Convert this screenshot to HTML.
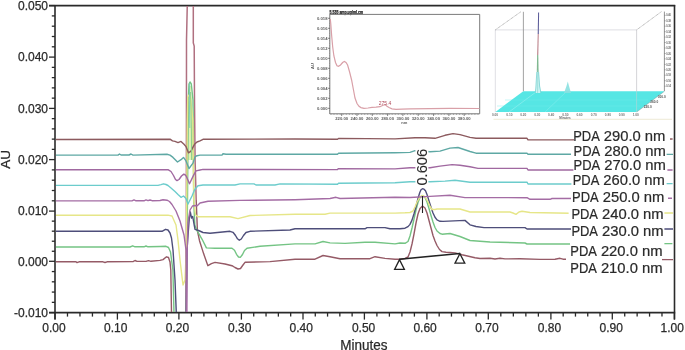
<!DOCTYPE html>
<html><head><meta charset="utf-8"><style>
html,body{margin:0;padding:0;background:#fff;width:685px;height:350px;overflow:hidden;}
svg{display:block;will-change:transform;}
text{font-family:"Liberation Sans",sans-serif;fill:#2a2a2a;}
.t12{font-size:12px;stroke:#2a2a2a;stroke-width:0.25px;}
.t13{font-size:13px;stroke:#2a2a2a;stroke-width:0.25px;}
.t14{font-size:14px;stroke:#2a2a2a;stroke-width:0.25px;}
.t15{font-size:15px;stroke:#2a2a2a;stroke-width:0.22px;}
.tiny{fill:#5a5a5a;font-weight:bold;}
</style></head><body>
<svg width="685" height="350" viewBox="0 0 685 350">
<defs><clipPath id="pc"><rect x="55" y="6" width="618" height="306"/></clipPath></defs>
<rect x="312" y="8" width="170" height="118" fill="#fff"/><text x="329.6" y="14" font-size="4.6" font-weight="bold" textLength="33.5" lengthAdjust="spacingAndGlyphs" style="fill:#1a1a1a;stroke:#1a1a1a;stroke-width:0.25px">5.535 amp.ug/ml.cm</text><polyline points="330,14.4 479.7,14.4 479.7,113.8" fill="none" stroke="#7a7a7a" stroke-width="1"/><polyline points="329.8,14 329.8,113.8 479.7,113.8" fill="none" stroke="#777" stroke-width="1"/><line x1="328" y1="18.3" x2="330" y2="18.3" stroke="#555" stroke-width="0.7"/><text x="327.5" y="19.8" text-anchor="end" class="tiny" font-size="4.2">0.018</text><line x1="329" y1="20.8" x2="330" y2="20.8" stroke="#777" stroke-width="0.5"/><line x1="329" y1="23.3" x2="330" y2="23.3" stroke="#777" stroke-width="0.5"/><line x1="329" y1="25.8" x2="330" y2="25.8" stroke="#777" stroke-width="0.5"/><line x1="328" y1="28.3" x2="330" y2="28.3" stroke="#555" stroke-width="0.7"/><text x="327.5" y="29.8" text-anchor="end" class="tiny" font-size="4.2">0.016</text><line x1="329" y1="30.8" x2="330" y2="30.8" stroke="#777" stroke-width="0.5"/><line x1="329" y1="33.3" x2="330" y2="33.3" stroke="#777" stroke-width="0.5"/><line x1="329" y1="35.8" x2="330" y2="35.8" stroke="#777" stroke-width="0.5"/><line x1="328" y1="38.3" x2="330" y2="38.3" stroke="#555" stroke-width="0.7"/><text x="327.5" y="39.8" text-anchor="end" class="tiny" font-size="4.2">0.014</text><line x1="329" y1="40.8" x2="330" y2="40.8" stroke="#777" stroke-width="0.5"/><line x1="329" y1="43.3" x2="330" y2="43.3" stroke="#777" stroke-width="0.5"/><line x1="329" y1="45.8" x2="330" y2="45.8" stroke="#777" stroke-width="0.5"/><line x1="328" y1="48.3" x2="330" y2="48.3" stroke="#555" stroke-width="0.7"/><text x="327.5" y="49.8" text-anchor="end" class="tiny" font-size="4.2">0.012</text><line x1="329" y1="50.8" x2="330" y2="50.8" stroke="#777" stroke-width="0.5"/><line x1="329" y1="53.3" x2="330" y2="53.3" stroke="#777" stroke-width="0.5"/><line x1="329" y1="55.8" x2="330" y2="55.8" stroke="#777" stroke-width="0.5"/><line x1="328" y1="58.3" x2="330" y2="58.3" stroke="#555" stroke-width="0.7"/><text x="327.5" y="59.8" text-anchor="end" class="tiny" font-size="4.2">0.010</text><line x1="329" y1="60.8" x2="330" y2="60.8" stroke="#777" stroke-width="0.5"/><line x1="329" y1="63.3" x2="330" y2="63.3" stroke="#777" stroke-width="0.5"/><line x1="329" y1="65.8" x2="330" y2="65.8" stroke="#777" stroke-width="0.5"/><line x1="328" y1="68.3" x2="330" y2="68.3" stroke="#555" stroke-width="0.7"/><text x="327.5" y="69.8" text-anchor="end" class="tiny" font-size="4.2">0.008</text><line x1="329" y1="70.8" x2="330" y2="70.8" stroke="#777" stroke-width="0.5"/><line x1="329" y1="73.3" x2="330" y2="73.3" stroke="#777" stroke-width="0.5"/><line x1="329" y1="75.8" x2="330" y2="75.8" stroke="#777" stroke-width="0.5"/><line x1="328" y1="78.3" x2="330" y2="78.3" stroke="#555" stroke-width="0.7"/><text x="327.5" y="79.8" text-anchor="end" class="tiny" font-size="4.2">0.006</text><line x1="329" y1="80.8" x2="330" y2="80.8" stroke="#777" stroke-width="0.5"/><line x1="329" y1="83.3" x2="330" y2="83.3" stroke="#777" stroke-width="0.5"/><line x1="329" y1="85.8" x2="330" y2="85.8" stroke="#777" stroke-width="0.5"/><line x1="328" y1="88.3" x2="330" y2="88.3" stroke="#555" stroke-width="0.7"/><text x="327.5" y="89.8" text-anchor="end" class="tiny" font-size="4.2">0.004</text><line x1="329" y1="90.8" x2="330" y2="90.8" stroke="#777" stroke-width="0.5"/><line x1="329" y1="93.3" x2="330" y2="93.3" stroke="#777" stroke-width="0.5"/><line x1="329" y1="95.8" x2="330" y2="95.8" stroke="#777" stroke-width="0.5"/><line x1="328" y1="98.3" x2="330" y2="98.3" stroke="#555" stroke-width="0.7"/><text x="327.5" y="99.8" text-anchor="end" class="tiny" font-size="4.2">0.002</text><line x1="329" y1="100.8" x2="330" y2="100.8" stroke="#777" stroke-width="0.5"/><line x1="329" y1="103.3" x2="330" y2="103.3" stroke="#777" stroke-width="0.5"/><line x1="329" y1="105.8" x2="330" y2="105.8" stroke="#777" stroke-width="0.5"/><line x1="328" y1="108.3" x2="330" y2="108.3" stroke="#555" stroke-width="0.7"/><text x="327.5" y="109.8" text-anchor="end" class="tiny" font-size="4.2">0.000</text><line x1="329" y1="110.8" x2="330" y2="110.8" stroke="#777" stroke-width="0.5"/><line x1="329" y1="113.3" x2="330" y2="113.3" stroke="#777" stroke-width="0.5"/><text transform="translate(313.5,66) rotate(-90)" text-anchor="middle" class="tiny" font-size="4">AU</text><line x1="341.7" y1="113.8" x2="341.7" y2="116" stroke="#555" stroke-width="0.7"/><text x="341.7" y="119.6" text-anchor="middle" class="tiny" font-size="4.2">220.00</text><line x1="357.0" y1="113.8" x2="357.0" y2="116" stroke="#555" stroke-width="0.7"/><text x="357.0" y="119.6" text-anchor="middle" class="tiny" font-size="4.2">240.00</text><line x1="372.3" y1="113.8" x2="372.3" y2="116" stroke="#555" stroke-width="0.7"/><text x="372.3" y="119.6" text-anchor="middle" class="tiny" font-size="4.2">260.00</text><line x1="387.6" y1="113.8" x2="387.6" y2="116" stroke="#555" stroke-width="0.7"/><text x="387.6" y="119.6" text-anchor="middle" class="tiny" font-size="4.2">280.00</text><line x1="402.9" y1="113.8" x2="402.9" y2="116" stroke="#555" stroke-width="0.7"/><text x="402.9" y="119.6" text-anchor="middle" class="tiny" font-size="4.2">300.00</text><line x1="418.2" y1="113.8" x2="418.2" y2="116" stroke="#555" stroke-width="0.7"/><text x="418.2" y="119.6" text-anchor="middle" class="tiny" font-size="4.2">320.00</text><line x1="433.6" y1="113.8" x2="433.6" y2="116" stroke="#555" stroke-width="0.7"/><text x="433.6" y="119.6" text-anchor="middle" class="tiny" font-size="4.2">340.00</text><line x1="448.9" y1="113.8" x2="448.9" y2="116" stroke="#555" stroke-width="0.7"/><text x="448.9" y="119.6" text-anchor="middle" class="tiny" font-size="4.2">360.00</text><line x1="464.2" y1="113.8" x2="464.2" y2="116" stroke="#555" stroke-width="0.7"/><text x="464.2" y="119.6" text-anchor="middle" class="tiny" font-size="4.2">380.00</text><line x1="331.0" y1="113.8" x2="331.0" y2="115" stroke="#777" stroke-width="0.5"/><line x1="334.0" y1="113.8" x2="334.0" y2="115" stroke="#777" stroke-width="0.5"/><line x1="337.1" y1="113.8" x2="337.1" y2="115" stroke="#777" stroke-width="0.5"/><line x1="340.2" y1="113.8" x2="340.2" y2="115" stroke="#777" stroke-width="0.5"/><line x1="343.2" y1="113.8" x2="343.2" y2="115" stroke="#777" stroke-width="0.5"/><line x1="346.3" y1="113.8" x2="346.3" y2="115" stroke="#777" stroke-width="0.5"/><line x1="349.4" y1="113.8" x2="349.4" y2="115" stroke="#777" stroke-width="0.5"/><line x1="352.4" y1="113.8" x2="352.4" y2="115" stroke="#777" stroke-width="0.5"/><line x1="355.5" y1="113.8" x2="355.5" y2="115" stroke="#777" stroke-width="0.5"/><line x1="358.5" y1="113.8" x2="358.5" y2="115" stroke="#777" stroke-width="0.5"/><line x1="361.6" y1="113.8" x2="361.6" y2="115" stroke="#777" stroke-width="0.5"/><line x1="364.7" y1="113.8" x2="364.7" y2="115" stroke="#777" stroke-width="0.5"/><line x1="367.7" y1="113.8" x2="367.7" y2="115" stroke="#777" stroke-width="0.5"/><line x1="370.8" y1="113.8" x2="370.8" y2="115" stroke="#777" stroke-width="0.5"/><line x1="373.9" y1="113.8" x2="373.9" y2="115" stroke="#777" stroke-width="0.5"/><line x1="376.9" y1="113.8" x2="376.9" y2="115" stroke="#777" stroke-width="0.5"/><line x1="380.0" y1="113.8" x2="380.0" y2="115" stroke="#777" stroke-width="0.5"/><line x1="383.0" y1="113.8" x2="383.0" y2="115" stroke="#777" stroke-width="0.5"/><line x1="386.1" y1="113.8" x2="386.1" y2="115" stroke="#777" stroke-width="0.5"/><line x1="389.2" y1="113.8" x2="389.2" y2="115" stroke="#777" stroke-width="0.5"/><line x1="392.2" y1="113.8" x2="392.2" y2="115" stroke="#777" stroke-width="0.5"/><line x1="395.3" y1="113.8" x2="395.3" y2="115" stroke="#777" stroke-width="0.5"/><line x1="398.3" y1="113.8" x2="398.3" y2="115" stroke="#777" stroke-width="0.5"/><line x1="401.4" y1="113.8" x2="401.4" y2="115" stroke="#777" stroke-width="0.5"/><line x1="404.5" y1="113.8" x2="404.5" y2="115" stroke="#777" stroke-width="0.5"/><line x1="407.5" y1="113.8" x2="407.5" y2="115" stroke="#777" stroke-width="0.5"/><line x1="410.6" y1="113.8" x2="410.6" y2="115" stroke="#777" stroke-width="0.5"/><line x1="413.7" y1="113.8" x2="413.7" y2="115" stroke="#777" stroke-width="0.5"/><line x1="416.7" y1="113.8" x2="416.7" y2="115" stroke="#777" stroke-width="0.5"/><line x1="419.8" y1="113.8" x2="419.8" y2="115" stroke="#777" stroke-width="0.5"/><line x1="422.8" y1="113.8" x2="422.8" y2="115" stroke="#777" stroke-width="0.5"/><line x1="425.9" y1="113.8" x2="425.9" y2="115" stroke="#777" stroke-width="0.5"/><line x1="429.0" y1="113.8" x2="429.0" y2="115" stroke="#777" stroke-width="0.5"/><line x1="432.0" y1="113.8" x2="432.0" y2="115" stroke="#777" stroke-width="0.5"/><line x1="435.1" y1="113.8" x2="435.1" y2="115" stroke="#777" stroke-width="0.5"/><line x1="438.2" y1="113.8" x2="438.2" y2="115" stroke="#777" stroke-width="0.5"/><line x1="441.2" y1="113.8" x2="441.2" y2="115" stroke="#777" stroke-width="0.5"/><line x1="444.3" y1="113.8" x2="444.3" y2="115" stroke="#777" stroke-width="0.5"/><line x1="447.3" y1="113.8" x2="447.3" y2="115" stroke="#777" stroke-width="0.5"/><line x1="450.4" y1="113.8" x2="450.4" y2="115" stroke="#777" stroke-width="0.5"/><line x1="453.5" y1="113.8" x2="453.5" y2="115" stroke="#777" stroke-width="0.5"/><line x1="456.5" y1="113.8" x2="456.5" y2="115" stroke="#777" stroke-width="0.5"/><line x1="459.6" y1="113.8" x2="459.6" y2="115" stroke="#777" stroke-width="0.5"/><line x1="462.6" y1="113.8" x2="462.6" y2="115" stroke="#777" stroke-width="0.5"/><line x1="465.7" y1="113.8" x2="465.7" y2="115" stroke="#777" stroke-width="0.5"/><line x1="468.8" y1="113.8" x2="468.8" y2="115" stroke="#777" stroke-width="0.5"/><line x1="471.8" y1="113.8" x2="471.8" y2="115" stroke="#777" stroke-width="0.5"/><line x1="474.9" y1="113.8" x2="474.9" y2="115" stroke="#777" stroke-width="0.5"/><line x1="478.0" y1="113.8" x2="478.0" y2="115" stroke="#777" stroke-width="0.5"/><text x="404.3" y="124" text-anchor="middle" class="tiny" font-size="4">nm</text><polyline points="330.3,19.0 330.8,24.0 331.6,35.0 332.7,47.0 333.9,56.0 335.5,62.5 337.0,65.8 338.5,66.3 340.5,65.0 342.6,62.5 344.4,61.5 346.0,62.5 347.6,65.0 349.6,72.0 351.6,80.0 353.5,90.0 355.0,98.0 357.0,103.5 359.0,106.3 361.0,107.6 364.0,108.3 368.0,108.0 372.0,107.4 376.0,107.2 380.0,106.7 383.0,105.2 385.0,104.6 387.0,106.3 389.0,107.5 392.0,108.8 396.0,109.4 402.0,109.1 410.0,108.8 430.0,108.6 450.0,108.4 479.5,108.5" fill="none" stroke="#d9a0a8" stroke-width="1.2"/><text x="378.8" y="105.3" font-size="5" style="fill:#b04858">275.4</text>
<rect x="489" y="6.5" width="185" height="113" fill="#fff"/><line x1="493.5" y1="119.3" x2="672" y2="119.3" stroke="#e8e4cc" stroke-width="0.8"/><polyline points="495.3,112 495.3,29.9 636.6,29.9 636.6,112" fill="none" stroke="#c8c8d0" stroke-width="0.6"/><line x1="495.3" y1="29.9" x2="520.8" y2="11.8" stroke="#777" stroke-width="0.6" stroke-dasharray="1,0.6"/><line x1="636.6" y1="29.9" x2="661.5" y2="11.6" stroke="#777" stroke-width="0.6" stroke-dasharray="1,0.6"/><line x1="523.4" y1="11.8" x2="523.4" y2="91.2" stroke="#999" stroke-width="0.9"/><polygon points="495.4,112 523.3,91.2 664.6,91.2 636.7,112" fill="#56e6e4"/><line x1="636.6" y1="29.9" x2="636.6" y2="112" stroke="#d0d0d0" stroke-width="0.5"/><line x1="509" y1="112" x2="536" y2="92" stroke="#9af0f0" stroke-width="0.6"/><line x1="545" y1="112" x2="566" y2="92" stroke="#8aeeee" stroke-width="0.5"/><line x1="497" y1="106" x2="640" y2="106" stroke="#6ee8e8" stroke-width="0.4"/><line x1="505" y1="100" x2="648" y2="100" stroke="#6ee8e8" stroke-width="0.4"/><line x1="664.4" y1="11.6" x2="664.4" y2="91" stroke="#666" stroke-width="0.7"/><line x1="664.4" y1="15.3" x2="665.8" y2="15.3" stroke="#666" stroke-width="0.5"/><text x="666.2" y="16.4" font-size="3.2" textLength="4.6" lengthAdjust="spacingAndGlyphs" style="fill:#555;font-weight:bold">0.40</text><line x1="664.4" y1="20.8" x2="665.8" y2="20.8" stroke="#666" stroke-width="0.5"/><text x="666.2" y="21.9" font-size="3.2" textLength="4.6" lengthAdjust="spacingAndGlyphs" style="fill:#555;font-weight:bold">0.38</text><line x1="664.4" y1="26.2" x2="665.8" y2="26.2" stroke="#666" stroke-width="0.5"/><text x="666.2" y="27.3" font-size="3.2" textLength="4.6" lengthAdjust="spacingAndGlyphs" style="fill:#555;font-weight:bold">0.36</text><line x1="664.4" y1="31.7" x2="665.8" y2="31.7" stroke="#666" stroke-width="0.5"/><text x="666.2" y="32.8" font-size="3.2" textLength="4.6" lengthAdjust="spacingAndGlyphs" style="fill:#555;font-weight:bold">0.34</text><line x1="664.4" y1="37.1" x2="665.8" y2="37.1" stroke="#666" stroke-width="0.5"/><text x="666.2" y="38.2" font-size="3.2" textLength="4.6" lengthAdjust="spacingAndGlyphs" style="fill:#555;font-weight:bold">0.32</text><line x1="664.4" y1="42.5" x2="665.8" y2="42.5" stroke="#666" stroke-width="0.5"/><text x="666.2" y="43.6" font-size="3.2" textLength="4.6" lengthAdjust="spacingAndGlyphs" style="fill:#555;font-weight:bold">0.30</text><line x1="664.4" y1="48.0" x2="665.8" y2="48.0" stroke="#666" stroke-width="0.5"/><text x="666.2" y="49.1" font-size="3.2" textLength="4.6" lengthAdjust="spacingAndGlyphs" style="fill:#555;font-weight:bold">0.28</text><line x1="664.4" y1="53.5" x2="665.8" y2="53.5" stroke="#666" stroke-width="0.5"/><text x="666.2" y="54.6" font-size="3.2" textLength="4.6" lengthAdjust="spacingAndGlyphs" style="fill:#555;font-weight:bold">0.26</text><line x1="664.4" y1="58.9" x2="665.8" y2="58.9" stroke="#666" stroke-width="0.5"/><text x="666.2" y="60.0" font-size="3.2" textLength="4.6" lengthAdjust="spacingAndGlyphs" style="fill:#555;font-weight:bold">0.24</text><line x1="664.4" y1="64.4" x2="665.8" y2="64.4" stroke="#666" stroke-width="0.5"/><text x="666.2" y="65.5" font-size="3.2" textLength="4.6" lengthAdjust="spacingAndGlyphs" style="fill:#555;font-weight:bold">0.22</text><line x1="664.4" y1="69.8" x2="665.8" y2="69.8" stroke="#666" stroke-width="0.5"/><text x="666.2" y="70.9" font-size="3.2" textLength="4.6" lengthAdjust="spacingAndGlyphs" style="fill:#555;font-weight:bold">0.20</text><line x1="664.4" y1="75.2" x2="665.8" y2="75.2" stroke="#666" stroke-width="0.5"/><text x="666.2" y="76.3" font-size="3.2" textLength="4.6" lengthAdjust="spacingAndGlyphs" style="fill:#555;font-weight:bold">0.18</text><line x1="664.4" y1="80.7" x2="665.8" y2="80.7" stroke="#666" stroke-width="0.5"/><text x="666.2" y="81.8" font-size="3.2" textLength="4.6" lengthAdjust="spacingAndGlyphs" style="fill:#555;font-weight:bold">0.16</text><line x1="664.4" y1="86.2" x2="665.8" y2="86.2" stroke="#666" stroke-width="0.5"/><text x="666.2" y="87.2" font-size="3.2" textLength="4.6" lengthAdjust="spacingAndGlyphs" style="fill:#555;font-weight:bold">0.14</text><polygon points="538.1,12.4 539.1,12.4 538.8,34 537.7,34" fill="#5a5a98"/><polygon points="537.7,34 538.8,34 538.3,55 537.1,55" fill="#c08890"/><polygon points="537.1,55 538.3,55 538.6,72 536.8,72" fill="#80b890"/><polygon points="536.8,72 538.8,72 540.5,93 535.5,93" fill="#c8f4f4"/><polyline points="536.8,72 535.8,88 535.2,93" fill="none" stroke="#6ccccc" stroke-width="0.7"/><polyline points="538.6,72 539.6,86 541,93" fill="none" stroke="#6ccccc" stroke-width="0.7"/><polyline points="537.8,70 537.6,93" fill="none" stroke="#88d0c8" stroke-width="0.6"/><polygon points="564,93 566.5,86 567.8,81.5 569,86 571,93" fill="#8ae0e0" opacity="0.9"/><text x="495.0" y="115.8" font-size="3.2" text-anchor="middle" style="fill:#777;font-weight:bold">0.00</text><text x="509.4" y="115.8" font-size="3.2" text-anchor="middle" style="fill:#777;font-weight:bold">0.10</text><text x="523.3" y="115.8" font-size="3.2" text-anchor="middle" style="fill:#777;font-weight:bold">0.20</text><text x="537.3" y="115.8" font-size="3.2" text-anchor="middle" style="fill:#777;font-weight:bold">0.30</text><text x="551.2" y="115.8" font-size="3.2" text-anchor="middle" style="fill:#777;font-weight:bold">0.40</text><text x="565.4" y="115.8" font-size="3.2" text-anchor="middle" style="fill:#777;font-weight:bold">0.50</text><text x="579.5" y="115.8" font-size="3.2" text-anchor="middle" style="fill:#777;font-weight:bold">0.60</text><text x="593.8" y="115.8" font-size="3.2" text-anchor="middle" style="fill:#777;font-weight:bold">0.70</text><text x="607.9" y="115.8" font-size="3.2" text-anchor="middle" style="fill:#777;font-weight:bold">0.80</text><text x="621.8" y="115.8" font-size="3.2" text-anchor="middle" style="fill:#777;font-weight:bold">0.90</text><text x="635.8" y="115.8" font-size="3.2" text-anchor="middle" style="fill:#777;font-weight:bold">1.00</text><text x="565" y="118.6" font-size="3" text-anchor="middle" style="fill:#666;font-weight:bold">Minutes</text><text x="647.8" y="107.9" font-size="3.2" text-anchor="middle" style="fill:#555;font-weight:bold">220.0</text><text x="654.3" y="102.9" font-size="3.2" text-anchor="middle" style="fill:#555;font-weight:bold">260.0</text><text x="661.8" y="98.3" font-size="3.2" text-anchor="middle" style="fill:#555;font-weight:bold">300.0</text><line x1="636.7" y1="112" x2="664.6" y2="91.2" stroke="#888" stroke-width="0.4"/>
<line x1="49" y1="5.6" x2="675.2" y2="5.6" stroke="#2a2a2a" stroke-width="1.7"/>
<line x1="674.5" y1="5" x2="674.5" y2="319.6" stroke="#2a2a2a" stroke-width="1.6"/>
<line x1="55" y1="5" x2="55" y2="319.6" stroke="#2a2a2a" stroke-width="1.6"/>
<line x1="49" y1="312.6" x2="675.2" y2="312.6" stroke="#2a2a2a" stroke-width="1.6"/>
<line x1="49" y1="5.60" x2="55" y2="5.60" stroke="#2a2a2a" stroke-width="1.3"/>
<line x1="51.8" y1="15.90" x2="55" y2="15.90" stroke="#2a2a2a" stroke-width="1.3"/>
<line x1="51.8" y1="26.20" x2="55" y2="26.20" stroke="#2a2a2a" stroke-width="1.3"/>
<line x1="51.8" y1="36.50" x2="55" y2="36.50" stroke="#2a2a2a" stroke-width="1.3"/>
<line x1="51.8" y1="46.80" x2="55" y2="46.80" stroke="#2a2a2a" stroke-width="1.3"/>
<line x1="49" y1="57.10" x2="55" y2="57.10" stroke="#2a2a2a" stroke-width="1.3"/>
<line x1="51.8" y1="67.36" x2="55" y2="67.36" stroke="#2a2a2a" stroke-width="1.3"/>
<line x1="51.8" y1="77.62" x2="55" y2="77.62" stroke="#2a2a2a" stroke-width="1.3"/>
<line x1="51.8" y1="87.88" x2="55" y2="87.88" stroke="#2a2a2a" stroke-width="1.3"/>
<line x1="51.8" y1="98.14" x2="55" y2="98.14" stroke="#2a2a2a" stroke-width="1.3"/>
<line x1="49" y1="108.40" x2="55" y2="108.40" stroke="#2a2a2a" stroke-width="1.3"/>
<line x1="51.8" y1="118.64" x2="55" y2="118.64" stroke="#2a2a2a" stroke-width="1.3"/>
<line x1="51.8" y1="128.88" x2="55" y2="128.88" stroke="#2a2a2a" stroke-width="1.3"/>
<line x1="51.8" y1="139.12" x2="55" y2="139.12" stroke="#2a2a2a" stroke-width="1.3"/>
<line x1="51.8" y1="149.36" x2="55" y2="149.36" stroke="#2a2a2a" stroke-width="1.3"/>
<line x1="49" y1="159.60" x2="55" y2="159.60" stroke="#2a2a2a" stroke-width="1.3"/>
<line x1="51.8" y1="169.90" x2="55" y2="169.90" stroke="#2a2a2a" stroke-width="1.3"/>
<line x1="51.8" y1="180.20" x2="55" y2="180.20" stroke="#2a2a2a" stroke-width="1.3"/>
<line x1="51.8" y1="190.50" x2="55" y2="190.50" stroke="#2a2a2a" stroke-width="1.3"/>
<line x1="51.8" y1="200.80" x2="55" y2="200.80" stroke="#2a2a2a" stroke-width="1.3"/>
<line x1="49" y1="211.10" x2="55" y2="211.10" stroke="#2a2a2a" stroke-width="1.3"/>
<line x1="51.8" y1="221.14" x2="55" y2="221.14" stroke="#2a2a2a" stroke-width="1.3"/>
<line x1="51.8" y1="231.18" x2="55" y2="231.18" stroke="#2a2a2a" stroke-width="1.3"/>
<line x1="51.8" y1="241.22" x2="55" y2="241.22" stroke="#2a2a2a" stroke-width="1.3"/>
<line x1="51.8" y1="251.26" x2="55" y2="251.26" stroke="#2a2a2a" stroke-width="1.3"/>
<line x1="49" y1="261.30" x2="55" y2="261.30" stroke="#2a2a2a" stroke-width="1.3"/>
<line x1="51.8" y1="271.56" x2="55" y2="271.56" stroke="#2a2a2a" stroke-width="1.3"/>
<line x1="51.8" y1="281.82" x2="55" y2="281.82" stroke="#2a2a2a" stroke-width="1.3"/>
<line x1="51.8" y1="292.08" x2="55" y2="292.08" stroke="#2a2a2a" stroke-width="1.3"/>
<line x1="51.8" y1="302.34" x2="55" y2="302.34" stroke="#2a2a2a" stroke-width="1.3"/>
<line x1="49" y1="312.6" x2="55" y2="312.6" stroke="#2a2a2a" stroke-width="1.3"/>
<line x1="55.00" y1="312.6" x2="55.00" y2="319.6" stroke="#2a2a2a" stroke-width="1.3"/>
<line x1="67.48" y1="312.6" x2="67.48" y2="316.6" stroke="#2a2a2a" stroke-width="1.3"/>
<line x1="79.96" y1="312.6" x2="79.96" y2="316.6" stroke="#2a2a2a" stroke-width="1.3"/>
<line x1="92.44" y1="312.6" x2="92.44" y2="316.6" stroke="#2a2a2a" stroke-width="1.3"/>
<line x1="104.92" y1="312.6" x2="104.92" y2="316.6" stroke="#2a2a2a" stroke-width="1.3"/>
<line x1="117.40" y1="312.6" x2="117.40" y2="319.6" stroke="#2a2a2a" stroke-width="1.3"/>
<line x1="129.70" y1="312.6" x2="129.70" y2="316.6" stroke="#2a2a2a" stroke-width="1.3"/>
<line x1="142.00" y1="312.6" x2="142.00" y2="316.6" stroke="#2a2a2a" stroke-width="1.3"/>
<line x1="154.30" y1="312.6" x2="154.30" y2="316.6" stroke="#2a2a2a" stroke-width="1.3"/>
<line x1="166.60" y1="312.6" x2="166.60" y2="316.6" stroke="#2a2a2a" stroke-width="1.3"/>
<line x1="178.90" y1="312.6" x2="178.90" y2="319.6" stroke="#2a2a2a" stroke-width="1.3"/>
<line x1="191.40" y1="312.6" x2="191.40" y2="316.6" stroke="#2a2a2a" stroke-width="1.3"/>
<line x1="203.90" y1="312.6" x2="203.90" y2="316.6" stroke="#2a2a2a" stroke-width="1.3"/>
<line x1="216.40" y1="312.6" x2="216.40" y2="316.6" stroke="#2a2a2a" stroke-width="1.3"/>
<line x1="228.90" y1="312.6" x2="228.90" y2="316.6" stroke="#2a2a2a" stroke-width="1.3"/>
<line x1="241.40" y1="312.6" x2="241.40" y2="319.6" stroke="#2a2a2a" stroke-width="1.3"/>
<line x1="253.72" y1="312.6" x2="253.72" y2="316.6" stroke="#2a2a2a" stroke-width="1.3"/>
<line x1="266.04" y1="312.6" x2="266.04" y2="316.6" stroke="#2a2a2a" stroke-width="1.3"/>
<line x1="278.36" y1="312.6" x2="278.36" y2="316.6" stroke="#2a2a2a" stroke-width="1.3"/>
<line x1="290.68" y1="312.6" x2="290.68" y2="316.6" stroke="#2a2a2a" stroke-width="1.3"/>
<line x1="303.00" y1="312.6" x2="303.00" y2="319.6" stroke="#2a2a2a" stroke-width="1.3"/>
<line x1="315.28" y1="312.6" x2="315.28" y2="316.6" stroke="#2a2a2a" stroke-width="1.3"/>
<line x1="327.56" y1="312.6" x2="327.56" y2="316.6" stroke="#2a2a2a" stroke-width="1.3"/>
<line x1="339.84" y1="312.6" x2="339.84" y2="316.6" stroke="#2a2a2a" stroke-width="1.3"/>
<line x1="352.12" y1="312.6" x2="352.12" y2="316.6" stroke="#2a2a2a" stroke-width="1.3"/>
<line x1="364.40" y1="312.6" x2="364.40" y2="319.6" stroke="#2a2a2a" stroke-width="1.3"/>
<line x1="376.90" y1="312.6" x2="376.90" y2="316.6" stroke="#2a2a2a" stroke-width="1.3"/>
<line x1="389.40" y1="312.6" x2="389.40" y2="316.6" stroke="#2a2a2a" stroke-width="1.3"/>
<line x1="401.90" y1="312.6" x2="401.90" y2="316.6" stroke="#2a2a2a" stroke-width="1.3"/>
<line x1="414.40" y1="312.6" x2="414.40" y2="316.6" stroke="#2a2a2a" stroke-width="1.3"/>
<line x1="426.90" y1="312.6" x2="426.90" y2="319.6" stroke="#2a2a2a" stroke-width="1.3"/>
<line x1="439.18" y1="312.6" x2="439.18" y2="316.6" stroke="#2a2a2a" stroke-width="1.3"/>
<line x1="451.46" y1="312.6" x2="451.46" y2="316.6" stroke="#2a2a2a" stroke-width="1.3"/>
<line x1="463.74" y1="312.6" x2="463.74" y2="316.6" stroke="#2a2a2a" stroke-width="1.3"/>
<line x1="476.02" y1="312.6" x2="476.02" y2="316.6" stroke="#2a2a2a" stroke-width="1.3"/>
<line x1="488.30" y1="312.6" x2="488.30" y2="319.6" stroke="#2a2a2a" stroke-width="1.3"/>
<line x1="500.82" y1="312.6" x2="500.82" y2="316.6" stroke="#2a2a2a" stroke-width="1.3"/>
<line x1="513.34" y1="312.6" x2="513.34" y2="316.6" stroke="#2a2a2a" stroke-width="1.3"/>
<line x1="525.86" y1="312.6" x2="525.86" y2="316.6" stroke="#2a2a2a" stroke-width="1.3"/>
<line x1="538.38" y1="312.6" x2="538.38" y2="316.6" stroke="#2a2a2a" stroke-width="1.3"/>
<line x1="550.90" y1="312.6" x2="550.90" y2="319.6" stroke="#2a2a2a" stroke-width="1.3"/>
<line x1="563.18" y1="312.6" x2="563.18" y2="316.6" stroke="#2a2a2a" stroke-width="1.3"/>
<line x1="575.46" y1="312.6" x2="575.46" y2="316.6" stroke="#2a2a2a" stroke-width="1.3"/>
<line x1="587.74" y1="312.6" x2="587.74" y2="316.6" stroke="#2a2a2a" stroke-width="1.3"/>
<line x1="600.02" y1="312.6" x2="600.02" y2="316.6" stroke="#2a2a2a" stroke-width="1.3"/>
<line x1="612.30" y1="312.6" x2="612.30" y2="319.6" stroke="#2a2a2a" stroke-width="1.3"/>
<line x1="624.72" y1="312.6" x2="624.72" y2="316.6" stroke="#2a2a2a" stroke-width="1.3"/>
<line x1="637.14" y1="312.6" x2="637.14" y2="316.6" stroke="#2a2a2a" stroke-width="1.3"/>
<line x1="649.56" y1="312.6" x2="649.56" y2="316.6" stroke="#2a2a2a" stroke-width="1.3"/>
<line x1="661.98" y1="312.6" x2="661.98" y2="316.6" stroke="#2a2a2a" stroke-width="1.3"/>
<line x1="674.4" y1="312.6" x2="674.4" y2="319.6" stroke="#2a2a2a" stroke-width="1.3"/>
<polyline points="186,313 186.3,250 186.5,40 186.9,22 187.3,4" fill="none" stroke="#b07080" stroke-width="1.5" clip-path="url(#pc)"/>
<polyline points="193.3,4 193.3,43 194.2,46 194.5,100 195.1,160 196.2,200" fill="none" stroke="#b07080" stroke-width="1.5" clip-path="url(#pc)"/>
<polygon points="189,86 191,86 192.6,120 193,160 187.6,160 187.8,120" fill="#e2f0b8" clip-path="url(#pc)"/>
<polyline points="56.0,261.8 76.0,261.8 77.0,262.6 79.0,261.8 103.0,261.8 105.0,262.5 107.0,261.8 133.0,261.6 135.0,260.5 137.0,261.4 146.0,261.4 148.5,260.6 151.0,261.3 160.0,260.4 163.0,259.6 166.5,256.8 168.5,257.5 170.0,262.0 170.8,270.0 171.5,313.0 186.0,313.0" fill="none" stroke="#955a66" stroke-width="1.4" stroke-linejoin="round" clip-path="url(#pc)"/>
<polyline points="196.2,200.0 196.8,215.0 197.4,230.7 199.5,240.7 203.6,253.6 207.9,265.7 211.4,263.6 215.0,262.4 225.0,264.0 232.0,265.7 235.0,267.5 238.0,269.0 240.5,268.5 243.0,265.0 245.0,262.3 270.0,261.6 295.0,259.2 315.0,259.2 323.0,255.5 330.0,256.7 340.0,258.7 370.0,258.7 375.0,256.7 385.0,258.4 395.0,259.2 400.0,259.3 405.0,258.5 408.0,257.0 410.0,252.0 412.0,244.0 414.0,234.0 416.0,223.0 418.0,214.0 420.0,208.5 422.5,206.0 425.0,208.0 427.0,213.0 429.0,220.5 431.0,228.0 433.0,235.5 435.0,241.0 437.0,245.5 439.5,249.5 442.0,251.6 446.0,252.2 450.0,252.5 455.0,252.9 462.0,254.7 475.0,257.7 480.0,258.5 490.0,258.2 495.0,259.0 500.0,258.3 505.0,258.9 520.0,258.8 540.0,259.4 555.0,259.2 560.0,258.3 563.0,259.2 566.0,259.3 674.0,259.6" fill="none" stroke="#955a66" stroke-width="1.4" stroke-linejoin="round" clip-path="url(#pc)"/>
<polyline points="56.0,247.0 130.0,247.0 132.7,245.8 135.0,246.8 144.0,246.8 146.0,246.0 148.0,246.8 160.0,246.5 166.0,246.3 168.5,247.5 170.5,252.0 172.9,270.0 174.0,313.0 186.0,313.0 187.5,200.0 188.3,100.0 189.0,84.0 190.0,82.0 191.3,84.0 193.0,100.0 193.7,200.0 194.8,225.0 197.1,230.7 202.1,239.3 206.4,247.9 215.0,248.3 232.0,248.3 234.5,250.3 236.5,254.3 238.5,257.0 240.5,257.2 242.5,254.5 244.5,250.5 247.0,248.3 260.0,246.3 295.0,243.9 315.0,243.9 323.0,241.5 330.0,242.9 345.0,243.4 365.0,242.2 375.0,242.2 395.0,243.9 400.0,243.0 405.0,243.3 408.0,241.5 410.0,236.0 412.0,228.0 414.0,219.0 416.0,210.0 418.0,202.5 420.0,197.5 422.5,195.5 425.0,197.5 427.0,202.0 429.0,208.5 431.0,215.5 433.0,222.0 435.0,227.5 437.0,231.0 440.0,233.5 442.0,234.2 450.0,233.5 460.0,236.5 470.0,240.5 490.0,242.0 525.0,243.0 527.0,244.0 570.0,244.0 672.4,243.6" fill="none" stroke="#74c484" stroke-width="1.4" stroke-linejoin="round" clip-path="url(#pc)"/>
<polyline points="56.0,231.3 162.0,231.3 165.5,229.3 168.0,230.0 170.0,233.0 171.5,238.0 173.0,250.0 175.0,280.0 176.3,313.0 186.2,313.0 187.0,250.0 188.0,236.0 189.3,218.0 190.3,212.0 191.5,218.0 192.7,216.5 194.0,224.0 195.0,229.3 198.6,230.5 203.0,232.5 210.0,233.2 230.0,231.3 233.0,232.3 235.5,235.5 237.5,238.8 239.3,240.2 241.3,239.0 243.5,235.5 246.0,232.5 250.0,231.3 290.0,230.0 295.0,228.8 365.0,228.8 367.0,227.6 385.0,227.6 390.0,228.8 400.0,228.7 405.0,228.2 408.0,226.6 410.0,224.4 412.0,220.1 414.0,213.7 416.0,206.6 418.0,198.5 419.7,192.7 421.0,189.8 422.5,188.7 424.0,189.2 425.5,190.8 427.0,194.4 429.0,200.9 431.0,207.3 433.0,213.0 435.0,217.3 437.0,219.9 440.0,221.3 443.0,221.4 465.0,220.4 470.0,224.8 476.0,226.5 484.0,227.6 525.0,227.6 527.0,229.0 571.0,229.0 673.0,229.0" fill="none" stroke="#4e4e7a" stroke-width="1.4" stroke-linejoin="round" clip-path="url(#pc)"/>
<polyline points="56.0,215.2 168.0,215.1 172.0,216.0 176.0,225.0 178.0,240.0 180.0,260.0 183.0,285.0 185.0,280.0 186.3,250.0 187.3,120.0 187.8,97.0 189.0,95.0 190.5,97.0 192.8,120.0 193.8,200.0 195.5,215.0 198.0,216.7 230.0,216.7 238.0,218.6 250.0,215.5 295.0,214.3 325.0,214.3 330.0,213.1 395.0,213.1 405.0,212.8 410.0,212.5 413.0,211.0 415.0,207.0 417.0,202.0 419.0,198.5 420.5,196.5 422.5,195.6 424.5,196.5 426.0,198.5 428.0,202.0 430.0,206.5 432.0,209.5 435.0,209.5 437.0,209.0 460.0,209.0 470.0,212.0 510.0,212.0 513.0,213.0 516.0,214.4 519.0,212.0 522.0,211.2 530.0,212.5 570.0,213.2 673.0,213.0" fill="none" stroke="#e6e688" stroke-width="1.4" stroke-linejoin="round" clip-path="url(#pc)"/>
<polyline points="56.0,200.9 132.0,200.9 134.0,199.9 136.0,200.8 144.0,200.8 146.0,199.9 148.0,200.7 150.0,200.0 152.0,200.7 160.0,200.5 163.0,199.8 167.0,200.2 169.5,201.5 172.0,204.5 176.0,211.0 180.0,221.0 184.0,235.0 186.0,250.0 186.3,313.0 186.9,313.0 187.2,250.0 188.0,222.0 190.0,210.0 192.5,206.0 195.0,205.5 197.0,205.9 200.0,203.0 208.0,201.3 240.0,200.4 295.0,199.7 330.0,198.5 336.0,197.3 340.0,198.5 395.0,197.3 410.0,197.5 430.0,196.4 450.0,195.3 465.0,197.6 527.0,197.7 530.0,199.3 550.0,199.3 552.0,198.5 672.0,198.3" fill="none" stroke="#a46ca4" stroke-width="1.4" stroke-linejoin="round" clip-path="url(#pc)"/>
<polyline points="56.0,185.4 158.0,185.4 161.0,184.6 163.5,183.8 166.0,184.5 168.0,185.5 171.0,188.0 175.0,191.5 178.0,194.5 181.0,197.3 183.5,196.0 186.0,198.6 188.0,204.0 192.0,196.0 194.5,190.0 196.0,188.0 198.0,185.8 203.0,185.0 235.0,185.0 240.0,183.9 254.0,183.9 256.0,185.0 275.0,185.0 280.0,183.9 337.5,184.3 338.5,183.3 395.0,182.8 410.0,181.7 430.0,181.7 445.0,181.1 455.0,180.2 470.0,182.2 527.0,182.2 528.0,184.0 572.0,184.0 672.6,183.6" fill="none" stroke="#6ccccc" stroke-width="1.4" stroke-linejoin="round" clip-path="url(#pc)"/>
<polyline points="56.0,169.8 166.0,169.8 168.4,169.8 171.0,171.5 173.5,175.5 175.5,179.5 177.0,180.6 179.0,179.5 181.5,176.0 183.8,174.1 185.5,175.2 186.5,176.7 189.5,183.8 193.5,175.4 196.0,170.9 200.0,170.0 203.0,169.4 337.5,169.6 338.5,168.6 395.0,168.9 410.0,167.8 430.0,167.8 440.0,166.1 452.0,164.6 460.0,165.3 470.0,166.8 478.0,168.4 527.0,168.4 528.0,170.0 573.0,170.0 672.6,170.0" fill="none" stroke="#a068a0" stroke-width="1.4" stroke-linejoin="round" clip-path="url(#pc)"/>
<polyline points="56.0,155.1 118.0,155.1 119.5,154.0 121.0,155.0 129.0,155.0 131.0,154.0 133.0,155.1 167.0,154.3 170.0,155.1 173.0,157.4 175.5,160.0 177.5,162.0 181.0,159.7 183.5,157.4 186.0,160.9 189.0,168.5 193.0,163.1 195.0,156.9 197.0,155.7 200.0,155.1 222.0,155.1 223.0,153.8 226.0,154.2 337.5,154.2 338.5,153.3 395.0,152.8 410.0,152.4 415.0,150.7 430.0,151.8 440.0,151.1 450.0,148.1 458.0,147.5 470.0,151.5 476.0,153.2 527.0,153.3 528.0,154.3 571.0,154.3 673.0,154.4" fill="none" stroke="#5ea8a4" stroke-width="1.4" stroke-linejoin="round" clip-path="url(#pc)"/>
<polyline points="56.0,139.5 170.0,139.2 172.5,140.9 175.0,141.4 178.0,142.6 181.0,141.4 184.0,144.3 186.0,146.6 188.5,152.9 191.0,151.1 193.0,147.1 194.5,144.3 197.0,142.0 200.0,140.9 203.0,139.3 295.0,139.0 337.5,139.3 338.5,138.4 395.0,138.9 415.0,137.8 425.0,137.8 435.0,138.3 445.0,135.3 453.0,133.6 460.0,134.6 470.0,137.4 476.0,138.3 527.0,138.3 528.0,139.9 570.0,139.9 672.6,139.0" fill="none" stroke="#8c5a5e" stroke-width="1.4" stroke-linejoin="round" clip-path="url(#pc)"/>
<polyline points="189.7,83 189.4,100 189.8,128" fill="none" stroke="#70c8b8" stroke-width="0.9" clip-path="url(#pc)"/>
<polyline points="190.6,92 191.4,130 191.6,160" fill="none" stroke="#8ccf8a" stroke-width="1" clip-path="url(#pc)"/>
<line x1="422.5" y1="196" x2="422.5" y2="213" stroke="#222" stroke-width="1.1"/>
<line x1="399.5" y1="259.3" x2="459.9" y2="253.4" stroke="#222" stroke-width="1.5"/>
<path d="M399.5,259.6 L394.6,269.4 L404.4,269.4 Z" fill="#fff" stroke="#222" stroke-width="1.3" stroke-linejoin="miter"/>
<path d="M459.9,253.7 L455,263.1 L464.8,263.1 Z" fill="#fff" stroke="#222" stroke-width="1.3"/>
<g transform="translate(427.4,167.2) rotate(-90)"><rect x="-18.8" y="-12" width="37.6" height="13" fill="#fff"/><text x="0" y="0" text-anchor="middle" class="t14" style="font-size:14.7px;stroke-width:0.1px">0.606</text></g>
<rect x="574.0" y="137.0" width="96.0" height="7.3" fill="#fff"/>
<rect x="571.0" y="152.0" width="95.6" height="7.2" fill="#fff"/>
<rect x="573.4" y="167.0" width="94.0" height="5.9" fill="#fff"/>
<rect x="571.4" y="181.5" width="95.2" height="6.9" fill="#fff"/>
<rect x="571.0" y="196.5" width="97.0" height="8.8" fill="#fff"/>
<rect x="568.6" y="211.0" width="95.8" height="10.6" fill="#fff"/>
<rect x="571.0" y="227.0" width="93.4" height="11.8" fill="#fff"/>
<rect x="570.0" y="241.5" width="94.4" height="16.8" fill="#fff"/>
<rect x="566.0" y="257.5" width="96.0" height="18.5" fill="#fff"/>
<text y="141.3" class="t15"><tspan x="573.2" textLength="26.6" lengthAdjust="spacingAndGlyphs">PDA</tspan><tspan x="603.8" textLength="37.0" lengthAdjust="spacingAndGlyphs">290.0</tspan><tspan x="644.8" textLength="20.6" lengthAdjust="spacingAndGlyphs">nm</tspan></text>
<text y="156.2" class="t15"><tspan x="573.6" textLength="26.6" lengthAdjust="spacingAndGlyphs">PDA</tspan><tspan x="604.2" textLength="37.0" lengthAdjust="spacingAndGlyphs">280.0</tspan><tspan x="645.2" textLength="20.6" lengthAdjust="spacingAndGlyphs">nm</tspan></text>
<text y="169.9" class="t15"><tspan x="573.6" textLength="26.6" lengthAdjust="spacingAndGlyphs">PDA</tspan><tspan x="604.2" textLength="37.0" lengthAdjust="spacingAndGlyphs">270.0</tspan><tspan x="645.2" textLength="20.6" lengthAdjust="spacingAndGlyphs">nm</tspan></text>
<text y="185.4" class="t15"><tspan x="572.7" textLength="26.6" lengthAdjust="spacingAndGlyphs">PDA</tspan><tspan x="603.3" textLength="37.0" lengthAdjust="spacingAndGlyphs">260.0</tspan><tspan x="644.3" textLength="20.6" lengthAdjust="spacingAndGlyphs">nm</tspan></text>
<text y="202.3" class="t15"><tspan x="572.1" textLength="26.6" lengthAdjust="spacingAndGlyphs">PDA</tspan><tspan x="602.7" textLength="37.0" lengthAdjust="spacingAndGlyphs">250.0</tspan><tspan x="643.7" textLength="20.6" lengthAdjust="spacingAndGlyphs">nm</tspan></text>
<text y="218.6" class="t15"><tspan x="571.4" textLength="26.6" lengthAdjust="spacingAndGlyphs">PDA</tspan><tspan x="602.0" textLength="37.0" lengthAdjust="spacingAndGlyphs">240.0</tspan><tspan x="643.0" textLength="20.6" lengthAdjust="spacingAndGlyphs">nm</tspan></text>
<text y="235.8" class="t15"><tspan x="571.4" textLength="26.6" lengthAdjust="spacingAndGlyphs">PDA</tspan><tspan x="602.0" textLength="37.0" lengthAdjust="spacingAndGlyphs">230.0</tspan><tspan x="643.0" textLength="20.6" lengthAdjust="spacingAndGlyphs">nm</tspan></text>
<text y="256.0" class="t15"><tspan x="570.3" textLength="26.6" lengthAdjust="spacingAndGlyphs">PDA</tspan><tspan x="600.9" textLength="37.0" lengthAdjust="spacingAndGlyphs">220.0</tspan><tspan x="641.9" textLength="20.6" lengthAdjust="spacingAndGlyphs">nm</tspan></text>
<text y="273.0" class="t15"><tspan x="570.3" textLength="26.6" lengthAdjust="spacingAndGlyphs">PDA</tspan><tspan x="600.9" textLength="37.0" lengthAdjust="spacingAndGlyphs">210.0</tspan><tspan x="641.9" textLength="20.6" lengthAdjust="spacingAndGlyphs">nm</tspan></text>
<text x="48" y="9.9" text-anchor="end" class="t12">0.050</text>
<text x="48" y="61.4" text-anchor="end" class="t12">0.040</text>
<text x="48" y="112.7" text-anchor="end" class="t12">0.030</text>
<text x="48" y="163.9" text-anchor="end" class="t12">0.020</text>
<text x="48" y="215.4" text-anchor="end" class="t12">0.010</text>
<text x="48" y="265.6" text-anchor="end" class="t12">0.000</text>
<text x="48" y="316.9" text-anchor="end" class="t12">-0.010</text>
<text x="53.9" y="332.2" text-anchor="middle" class="t12">0.00</text>
<text x="115.7" y="332.2" text-anchor="middle" class="t12">0.10</text>
<text x="177.5" y="332.2" text-anchor="middle" class="t12">0.20</text>
<text x="239.7" y="332.2" text-anchor="middle" class="t12">0.30</text>
<text x="301.3" y="332.2" text-anchor="middle" class="t12">0.40</text>
<text x="363.6" y="332.2" text-anchor="middle" class="t12">0.50</text>
<text x="425.1" y="332.2" text-anchor="middle" class="t12">0.60</text>
<text x="487.0" y="332.2" text-anchor="middle" class="t12">0.70</text>
<text x="549.5" y="332.2" text-anchor="middle" class="t12">0.80</text>
<text x="611.3" y="332.2" text-anchor="middle" class="t12">0.90</text>
<text x="672.3" y="332.2" text-anchor="middle" class="t12">1.00</text>
<text transform="translate(10.1,159.3) rotate(-90)" text-anchor="middle" class="t13" style="font-size:13.5px">AU</text>
<text x="340.2" y="349.5" class="t14" textLength="47.2" lengthAdjust="spacingAndGlyphs">Minutes</text>
</svg>
</body></html>
